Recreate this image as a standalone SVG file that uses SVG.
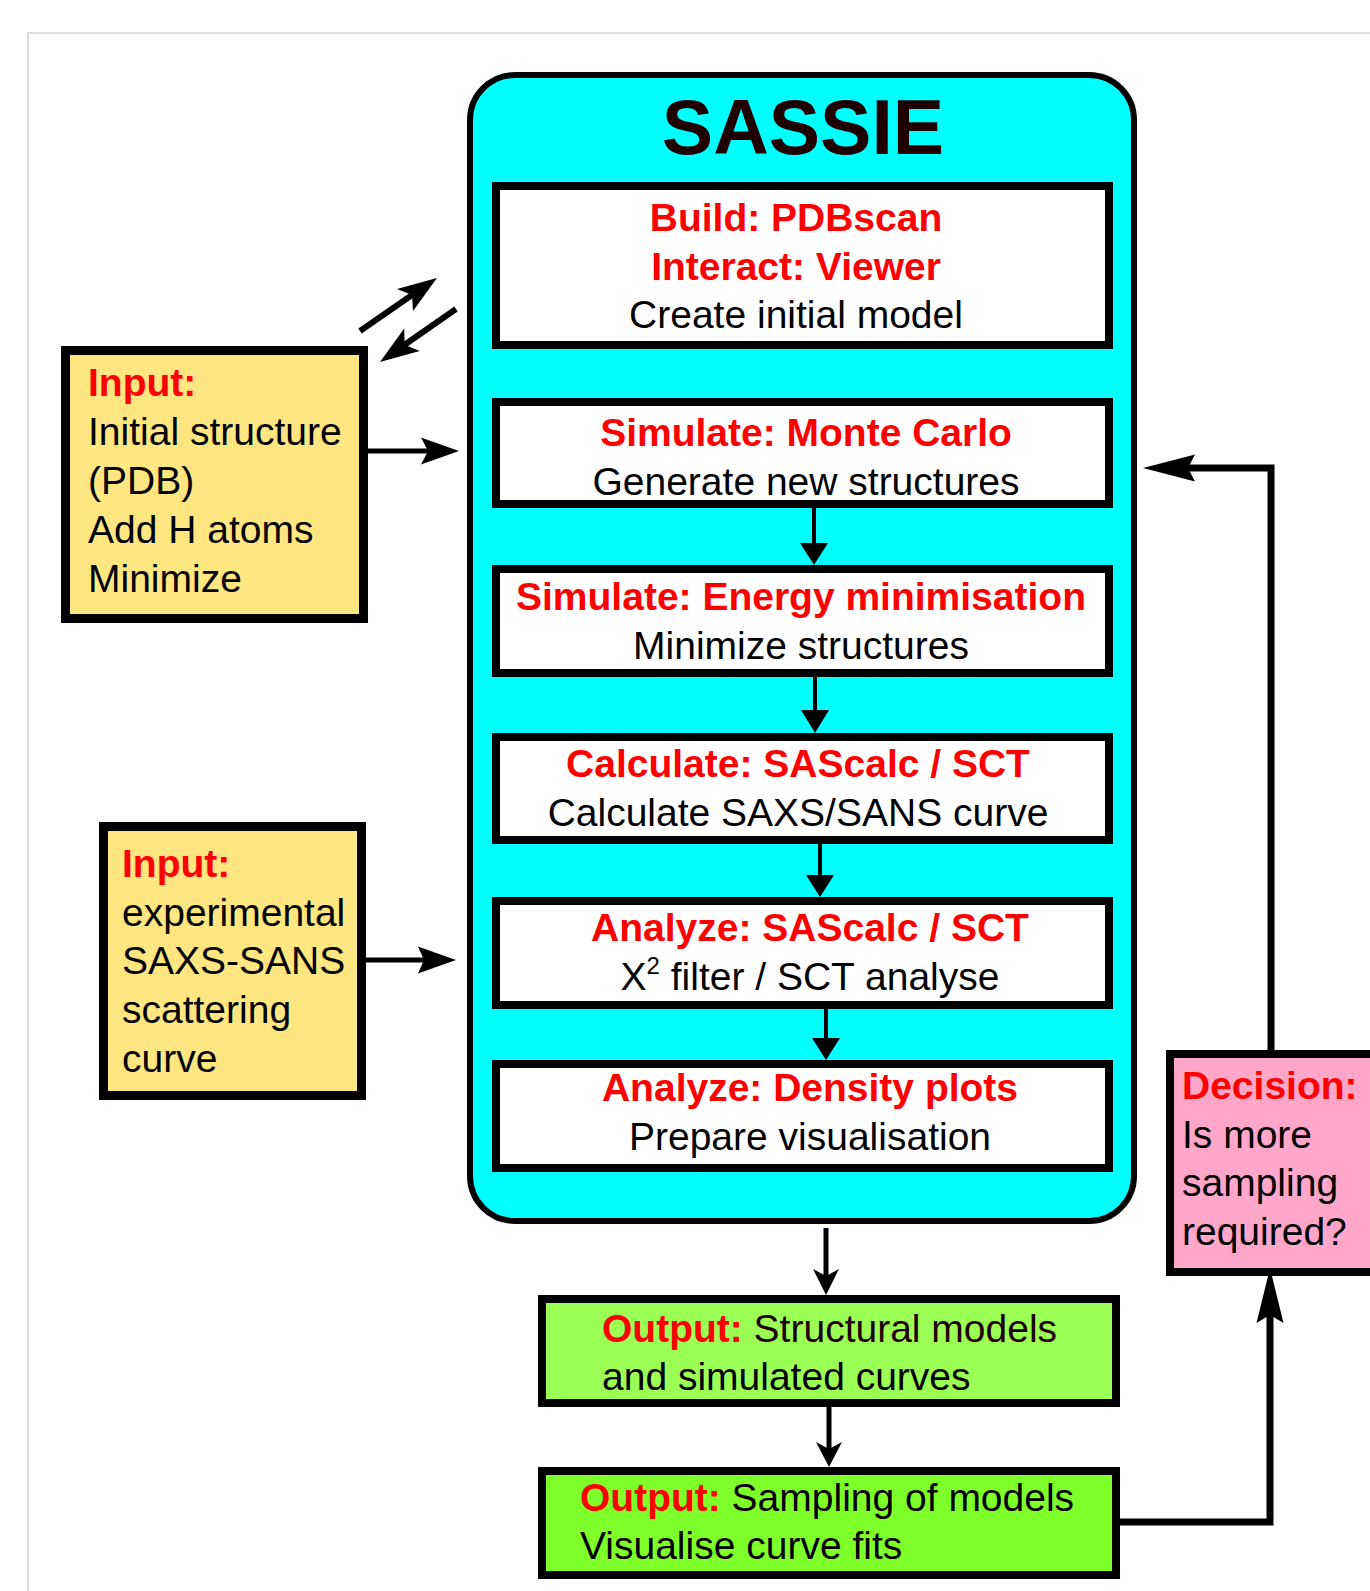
<svg xmlns="http://www.w3.org/2000/svg" width="1370" height="1591" viewBox="0 0 1370 1591">
<style>
text{font-family:"Liberation Sans",Arial,Helvetica,sans-serif;font-size:39px;fill:#000}
.r{fill:#FF0000;font-weight:bold}
.c{text-anchor:middle}
.box{fill:#FFFFFF;stroke:#000;stroke-width:8}
.yel{fill:#FFE680;stroke:#000;stroke-width:9}
.ln{fill:none;stroke:#000;stroke-linecap:butt;stroke-linejoin:miter}
.hd{fill:#000;stroke:none}
</style>
<rect width="1370" height="1591" fill="#FFFFFF"/>
<path d="M28,1591 V33 H1370" fill="none" stroke="#DCDCDC" stroke-width="2"/>

<g id="sassie">
<rect x="470" y="75" width="664" height="1146" rx="45" ry="45" fill="#00FFFF" stroke="#000" stroke-width="6"/>
<text x="803" y="154" class="c" style="font-size:77px;font-weight:bold;fill:#1E0000">SASSIE</text>
</g>

<g id="build">
<rect class="box" x="496" y="186" width="613" height="159"/>
<text x="796" y="231" class="c r">Build: PDBscan</text>
<text x="796" y="280" class="c r">Interact: Viewer</text>
<text x="796" y="328" class="c">Create initial model</text>
</g>

<g id="montecarlo">
<rect class="box" x="496" y="402" width="613" height="102"/>
<text x="806" y="446" class="c r">Simulate: Monte Carlo</text>
<text x="806" y="495" class="c">Generate new structures</text>
</g>

<g id="energymin">
<rect class="box" x="496" y="569" width="613" height="104"/>
<text x="801" y="610" class="c r">Simulate: Energy minimisation</text>
<text x="801" y="659" class="c">Minimize structures</text>
</g>

<g id="calculate">
<rect class="box" x="496" y="737" width="613" height="103"/>
<text x="798" y="777" class="c r">Calculate: SAScalc / SCT</text>
<text x="798" y="826" class="c">Calculate SAXS/SANS curve</text>
</g>

<g id="analyze">
<rect class="box" x="496" y="901" width="613" height="104"/>
<text x="810" y="941" class="c r">Analyze: SAScalc / SCT</text>
<text x="810" y="990" class="c">X<tspan style="font-size:24px" dy="-16">2</tspan><tspan dy="16"> filter / SCT analyse</tspan></text>
</g>

<g id="density">
<rect class="box" x="496" y="1064" width="613" height="104"/>
<text x="810" y="1101" class="c r">Analyze: Density plots</text>
<text x="810" y="1150" class="c">Prepare visualisation</text>
</g>

<g id="input1">
<rect class="yel" x="65.5" y="350.5" width="298" height="268"/>
<text x="88" y="396" class="r">Input:</text>
<text x="88" y="445">Initial structure</text>
<text x="88" y="494">(PDB)</text>
<text x="88" y="543">Add H atoms</text>
<text x="88" y="592">Minimize</text>
</g>

<g id="input2">
<rect class="yel" x="103.5" y="826.5" width="258" height="269"/>
<text x="122" y="877" class="r">Input:</text>
<text x="122" y="926">experimental</text>
<text x="122" y="974">SAXS-SANS</text>
<text x="122" y="1023">scattering</text>
<text x="122" y="1072">curve</text>
</g>

<g id="output1">
<rect x="542" y="1299" width="574" height="104" fill="#9BFF55" stroke="#000" stroke-width="8"/>
<text x="602" y="1342"><tspan class="r">Output:</tspan><tspan style="fill:#1E0000"> Structural models</tspan></text>
<text x="602" y="1390">and simulated curves</text>
</g>

<g id="output2">
<rect x="542" y="1471" width="574" height="104" fill="#7FFF2A" stroke="#000" stroke-width="8"/>
<text x="580" y="1511"><tspan class="r">Output:</tspan> Sampling of models</text>
<text x="580" y="1559">Visualise curve fits</text>
</g>

<g id="decision">
<rect x="1170" y="1054" width="260" height="218" fill="#FFA6C9" stroke="#000" stroke-width="8"/>
<text x="1182" y="1099" class="r">Decision:</text>
<text x="1182" y="1148">Is more</text>
<text x="1182" y="1196">sampling</text>
<text x="1182" y="1245">required?</text>
</g>

<g id="connectors">
<!-- diagonal exchange arrows -->
<path class="ln" stroke-width="6" d="M360,331 L412,295"/>
<path class="hd" d="M437,278 L397,289 L412,295 L413,311 Z"/>
<path class="ln" stroke-width="6" d="M456,309 L404.6,344.8"/>
<path class="hd" d="M380,362 L404.2,328.5 L404.6,344.8 L419.8,350.9 Z"/>
<!-- inputs to SASSIE -->
<path class="ln" stroke-width="5" d="M368,451 H428"/>
<path class="hd" d="M459,451 L421,437.5 L428,451 L421,464.5 Z"/>
<path class="ln" stroke-width="5" d="M366,960 H424"/>
<path class="hd" d="M456,960 L418,946.5 L424,960 L418,973.5 Z"/>
<!-- inner flow -->
<path class="ln" stroke-width="4" d="M814,508 V546"/>
<path class="hd" d="M800,543 L828,543 L814,565 Z"/>
<path class="ln" stroke-width="4" d="M815,677 V713"/>
<path class="hd" d="M801,710 L829,710 L815,733 Z"/>
<path class="ln" stroke-width="4" d="M820,844 V878"/>
<path class="hd" d="M806,875 L834,875 L820,897 Z"/>
<path class="ln" stroke-width="4" d="M826,1009 V1041"/>
<path class="hd" d="M812,1038 L840,1038 L826,1060 Z"/>
<!-- outputs -->
<path class="ln" stroke-width="5" d="M826,1228 V1277"/>
<path class="hd" d="M826,1295 L813,1269 L826,1276 L839,1269 Z"/>
<path class="ln" stroke-width="5" d="M829,1407 V1449"/>
<path class="hd" d="M829,1467 L816,1442 L829,1449 L842,1442 Z"/>
<!-- feedback loop -->
<path class="ln" stroke-width="7" d="M1120,1522 H1270 V1315"/>
<path class="hd" d="M1270,1268 L1256.5,1323 L1270,1315 L1283.5,1323 Z"/>
<path class="ln" stroke-width="7" d="M1271,1050 V468 H1188"/>
<path class="hd" d="M1143,468 L1195,454.5 L1188,468 L1195,481.5 Z"/>
</g>
</svg>
